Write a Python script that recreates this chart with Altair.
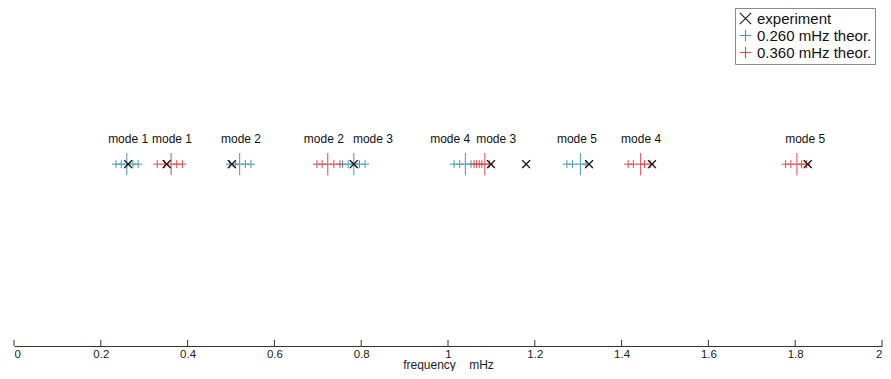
import altair as alt
import pandas as pd

# experiment frequencies (mHz)
exp_freq = [0.263, 0.352, 0.502, 0.783, 1.099, 1.180, 1.325, 1.470, 1.829]

# theoretical small markers (mHz)
blue_small = [0.235, 0.247, 0.274, 0.286,
              0.497, 0.510, 0.533, 0.546,
              0.757, 0.770, 0.796, 0.809,
              1.014, 1.027, 1.053,
              1.274, 1.287, 1.318]
red_small = [0.330, 0.347, 0.375, 0.388,
             0.698, 0.710, 0.737, 0.751,
             1.060, 1.066, 1.072, 1.078, 1.095,
             1.415, 1.427, 1.453, 1.466,
             1.778, 1.790, 1.815, 1.826]
# theoretical main markers (mHz)
blue_main = [0.260, 0.520, 0.783, 1.040, 1.305]
red_main = [0.362, 0.723, 1.085, 1.444, 1.804]

# mode labels
label_text = ["mode 1", "mode 1", "mode 2", "mode 2", "mode 3",
              "mode 4", "mode 3", "mode 5", "mode 4", "mode 5"]
label_x = [0.263, 0.364, 0.523, 0.714, 0.827, 1.005, 1.111, 1.297, 1.445, 1.823]

tick_values = [0, 0.2, 0.4, 0.6, 0.8, 1.0, 1.2, 1.4, 1.6, 1.8, 2.0]

S_EXP = "experiment"
S_B = "0.260 mHz theor."
S_R = "0.360 mHz theor."
BLUE = "#4199b4"
RED = "#d8464f"

pts = pd.DataFrame(
    [{"f": v, "series": S_EXP} for v in exp_freq]
    + [{"f": v, "series": S_B} for v in blue_small]
    + [{"f": v, "series": S_R} for v in red_small]
)
main = pd.DataFrame(
    [{"f": v, "series": S_B} for v in blue_main]
    + [{"f": v, "series": S_R} for v in red_main]
)
labels = pd.DataFrame({"f": label_x, "t": label_text})
ticks = pd.DataFrame({"f": tick_values})

FONT = "Liberation Sans"
W, H = 868, 338
LEVEL = 0.538

xscale = alt.Scale(domain=[0, 2], nice=False, zero=False)
yscale = alt.Scale(domain=[0, 1])

X_PATH = "M-1,-1L1,1M-1,1L1,-1"
P_PATH = "M-1,0L1,0M0,-1L0,1"
TALL_PATH = "M-0.4,0L0.4,0M0,-1L0,1"

color = alt.Color(
    "series:N",
    scale=alt.Scale(domain=[S_EXP, S_B, S_R], range=["#1a1a1a", BLUE, RED]),
    legend=alt.Legend(
        title=None, orient="none", legendX=721, legendY=0,
        strokeColor="#8a8a8a", fillColor="white", padding=3,
        labelFont=FONT, labelFontSize=15, labelColor="#111",
        symbolSize=130, symbolStrokeWidth=1.1, rowPadding=0,
        labelOffset=4, symbolOffset=0,
    ),
)
shape = alt.Shape(
    "series:N",
    scale=alt.Scale(domain=[S_EXP, S_B, S_R], range=[X_PATH, P_PATH, P_PATH]),
    legend=alt.Legend(title=None, orient="none", legendX=721, legendY=0),
)

base_x = alt.X("f:Q", scale=xscale,
               axis=alt.Axis(values=tick_values, format="~g", ticks=False,
                             grid=False, domainColor="#333", domainWidth=1,
                             labelFont=FONT, labelFontSize=11.5, labelColor="#222",
                             labelPadding=2, title="frequency\u00a0\u00a0\u00a0\u00a0mHz",
                             titleFont=FONT, titleFontSize=12, titleFontWeight="normal",
                             titleColor="#222", titlePadding=0))

small = alt.Chart(pts).mark_point(filled=False, size=64, strokeWidth=1, opacity=1).encode(
    x=base_x,
    y=alt.Y(datum=LEVEL, scale=yscale, axis=None),
    color=color,
    shape=shape,
)
exp_only = alt.Chart(pts[pts.series == S_EXP]).mark_point(
    filled=False, size=60, strokeWidth=1.2, opacity=1).encode(
    x=alt.X("f:Q", scale=xscale),
    y=alt.Y(datum=LEVEL, scale=yscale),
    color=alt.Color("series:N", legend=None),
    shape=alt.value(X_PATH),
)
tall = alt.Chart(main).mark_point(filled=False, size=500, strokeWidth=1, opacity=1).encode(
    x=alt.X("f:Q", scale=xscale),
    y=alt.Y(datum=LEVEL, scale=yscale),
    color=alt.Color("series:N", legend=None),
    shape=alt.value(TALL_PATH),
)
text = alt.Chart(labels).mark_text(font=FONT, fontSize=12, color="#111", dy=-25).encode(
    x=alt.X("f:Q", scale=xscale),
    y=alt.Y(datum=LEVEL, scale=yscale),
    text="t:N",
)
tickmarks = alt.Chart(ticks).mark_rule(color="#333", strokeWidth=1).encode(
    x=alt.X("f:Q", scale=xscale),
    y=alt.value(H - 6),
    y2=alt.value(H),
)

chart = alt.layer(small, tall, exp_only, text, tickmarks).properties(
    width=W, height=H,
    background="white",
    autosize=alt.AutoSizeParams(type="none"),
    padding={"left": 6, "top": 0, "right": 1, "bottom": 25},
).configure_view(strokeWidth=0)

chart.save("out.html", embed_options={"renderer": "svg", "actions": False})
